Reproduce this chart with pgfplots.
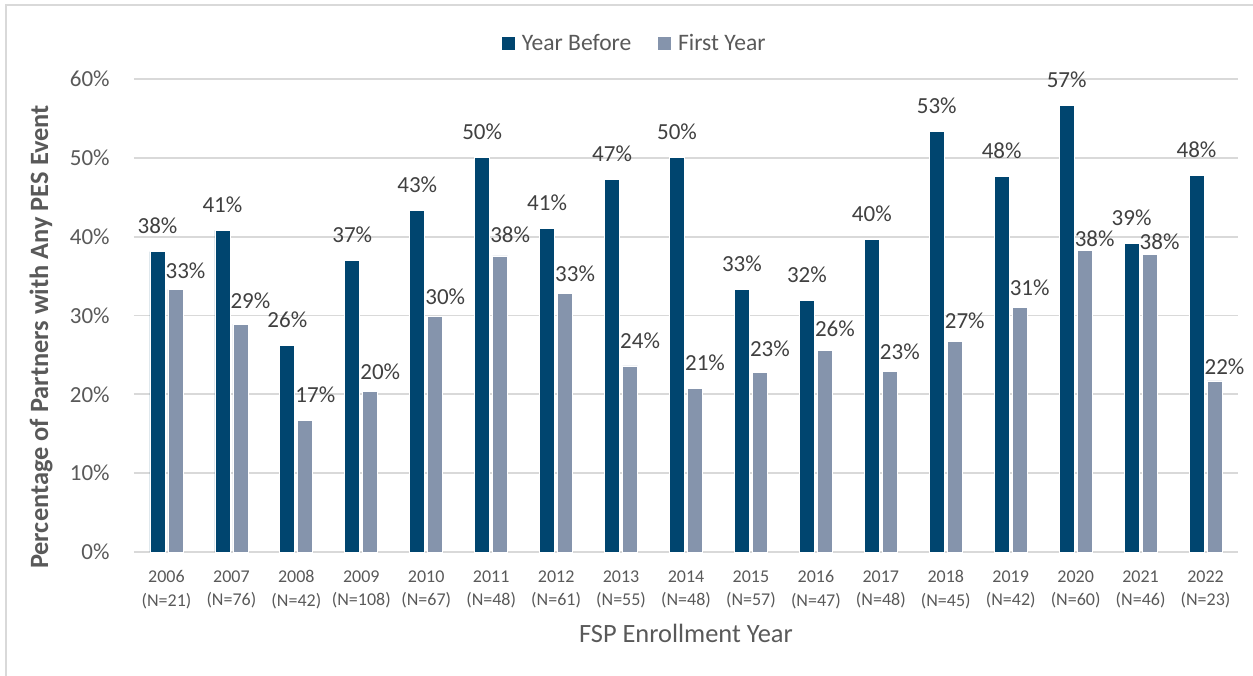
\documentclass[border=0pt]{standalone}
\usepackage{fontspec}
\setmainfont{Carlito}
\usepackage{pgfplots}
\usepackage{pgfplotstable}
\pgfplotsset{compat=1.18}

\definecolor{ybblue}{HTML}{00456F}
\definecolor{fygray}{HTML}{8594AC}
\definecolor{textgray}{HTML}{595959}
\definecolor{labelgray}{HTML}{404040}
\definecolor{gridgray}{HTML}{D9D9D9}

% x: category index, yb/fy: share of partners (%),
% gb/gf: gap between bar top and its value label (px at 0.5pt each)
\pgfplotstableread{
x  yb    gb  fy    gf
0  38.1  18  33.3  11
1  40.8  18  28.9  16
2  26.2  18  16.7  17.7
3  37.0  18  20.4  11.7
4  43.3  18  29.9  11.7
5  50.0  18  37.55 13.3
6  41.0  18  32.8  11.7
7  47.3  18  23.6  17.7
8  50.0  18  20.8  17.7
9  33.3  18  22.8  15.7
10 31.9  18  25.6  14
11 39.6  18  22.9  11.7
12 53.3  18  26.7  13.4
13 47.6  18  31.0  11.7
14 56.7  18  38.3  3.3
15 39.1  18  37.7  5
16 47.8  18  21.7  6
}\pesdata

\begin{document}
\begin{tikzpicture}
\useasboundingbox (-67pt,-61.5pt) rectangle (559.5pt,276pt);
% chart frame
\draw[gridgray, line width=1pt] (-63.75pt,-80pt) rectangle (580pt,273.5pt);
\begin{axis}[
  at={(0pt,0pt)}, anchor=south west,
  scale only axis, width=552pt, height=236.5pt,
  clip=false,
  ybar, bar width=0.231,
  xmin=-0.5, xmax=16.5, ymin=0, ymax=60,
  axis line style={draw=none},
  major tick length=0pt,
  ymajorgrids, grid style={gridgray, line width=0.9pt},
  ytick={0,10,...,60},
  yticklabel={\pgfmathprintnumber{\tick}\%},
  /pgf/number format/assume math mode=true,
  yticklabel style={inner sep=0pt, xshift=-12pt, text=textgray,
    font=\fontsize{11.5}{13.8}\selectfont},
  xtick={0,...,16},
  xticklabels={{2006\\(N=21)},{2007\\(N=76)},{2008\\(N=42)},{2009\\(N=108)},
    {2010\\(N=67)},{2011\\(N=48)},{2012\\(N=61)},{2013\\(N=55)},{2014\\(N=48)},
    {2015\\(N=57)},{2016\\(N=47)},{2017\\(N=48)},{2018\\(N=45)},{2019\\(N=42)},
    {2020\\(N=60)},{2021\\(N=46)},{2022\\(N=23)}},
  xticklabel style={align=center, inner sep=0pt, yshift=-9pt, text=textgray,
    font=\fontsize{9}{11.75}\selectfont},
  xlabel={FSP Enrollment Year},
  xlabel style={at={(axis description cs:0.5,-0.1712)}, anchor=center,
    text=textgray, font=\fontsize{13.2}{15}\selectfont},
  ylabel={Percentage of Partners with Any PES Event},
  ylabel style={at={(axis description cs:-0.0842,0.4545)}, anchor=center,
    text=textgray, font=\fontsize{13.2}{15}\selectfont\bfseries},
  legend columns=-1,
  legend style={at={(axis description cs:0.3324,1.0751)}, anchor=west,
    draw=none, fill=none, inner sep=0pt, outer sep=0pt,
    font=\fontsize{11.8}{14}\selectfont, text=textgray,
    nodes={inner sep=0pt},
    /tikz/every odd column/.append style={column sep=3pt},
    /tikz/every even column/.append style={column sep=13pt}},
  legend image code/.code={\fill[#1] (0pt,-3.5pt) rectangle (7pt,3.5pt);},
]
\addplot[fill=ybblue, draw=white, line width=0.4pt, bar shift=-0.1386,
  visualization depends on={\thisrow{gb} \as \gap},
  nodes near coords={\pgfmathprintnumber[fixed,precision=0]{\pgfplotspointmeta}\%},
  nodes near coords style={anchor=base, inner sep=0pt, yshift=\gap*0.5pt,
    text=labelgray, font=\fontsize{11.5}{13.8}\selectfont}]
  table[x=x, y=yb] {\pesdata};
\addlegendentry{Year Before}
\addplot[fill=fygray, draw=white, line width=0.4pt, bar shift=0.1386,
  visualization depends on={\thisrow{gf} \as \gap},
  nodes near coords={\pgfmathprintnumber[fixed,precision=0]{\pgfplotspointmeta}\%},
  nodes near coords style={anchor=base, inner sep=0pt, yshift=\gap*0.5pt,
    xshift=5pt, text=labelgray, font=\fontsize{11.5}{13.8}\selectfont}]
  table[x=x, y=fy] {\pesdata};
\addlegendentry{First Year}
\end{axis}
\end{tikzpicture}
\end{document}
